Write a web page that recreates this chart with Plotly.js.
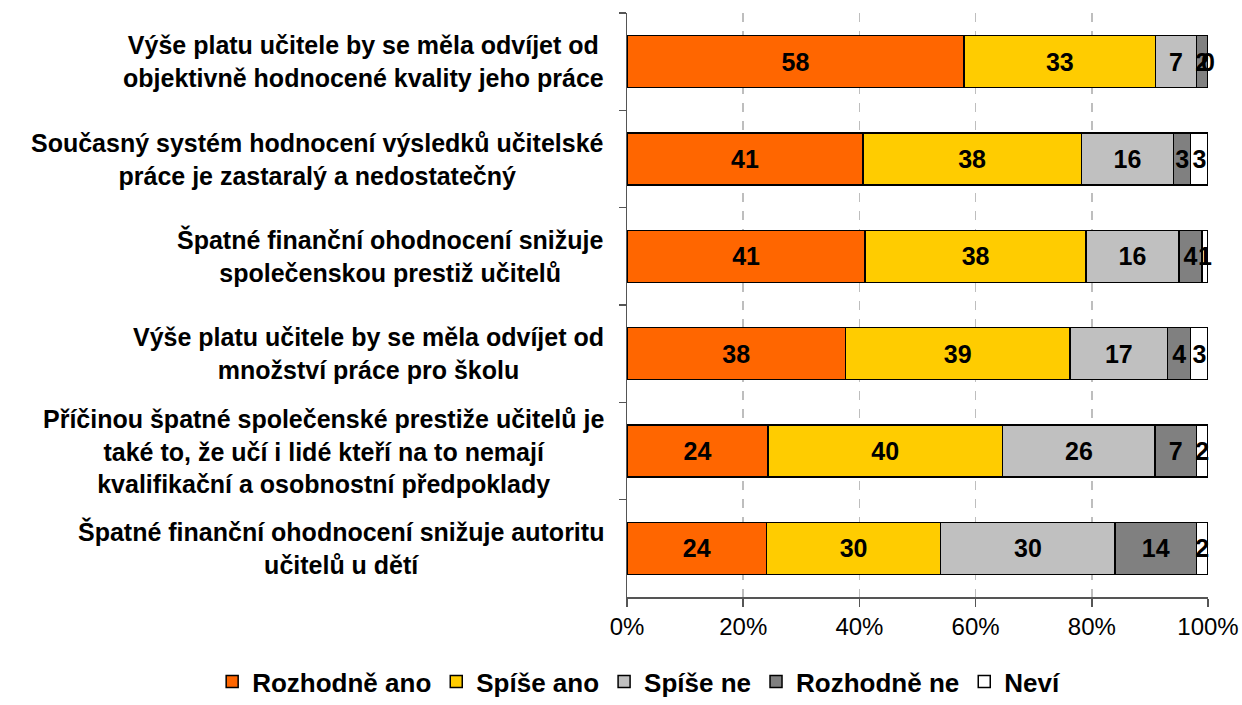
<!DOCTYPE html>
<html>
<head>
<meta charset="utf-8">
<script src="https://cdn.plot.ly/plotly-3.0.1.min.js"></script>
<style>html,body{margin:0;padding:0;background:#fff;}#chart{width:1242px;height:705px;}</style>
</head>
<body>
<div id="chart"></div>
<script>
const categories = [
  "Výše platu učitele by se měla odvíjet od<br>objektivně hodnocené kvality jeho práce",
  "Současný systém hodnocení výsledků učitelské<br>práce je zastaralý a nedostatečný",
  "Špatné finanční ohodnocení snižuje<br>společenskou prestiž učitelů",
  "Výše platu učitele by se měla odvíjet od<br>množství práce pro školu",
  "Příčinou špatné společenské prestiže učitelů je<br>také to, že učí i lidé kteří na to nemají<br>kvalifikační a osobnostní předpoklady",
  "Špatné finanční ohodnocení snižuje autoritu<br>učitelů u dětí"
];
const seriesNames = ["Rozhodně ano", "Spíše ano", "Spíše ne", "Rozhodně ne", "Neví"];
const rozhodneAno = [58, 41, 41, 38, 24, 24];
const spiseAno    = [33, 38, 38, 39, 40, 30];
const spiseNe     = [7, 16, 16, 17, 26, 30];
const rozhodneNe  = [2, 3, 4, 4, 7, 14];
const nevi        = [0, 3, 1, 3, 2, 2];
const xTickVals = [0, 20, 40, 60, 80, 100];
const xTickText = ["0%", "20%", "40%", "60%", "80%", "100%"];

const colors = ["#FF6600", "#FFCC00", "#C0C0C0", "#808080", "#FFFFFF"];
const seriesValues = [rozhodneAno, spiseAno, spiseNe, rozhodneNe, nevi];
const FONT = "Liberation Sans, Arial, sans-serif";

const traces = seriesValues.map((vals, i) => ({
  type: "bar",
  orientation: "h",
  name: seriesNames[i],
  y: categories,
  x: vals,
  text: vals.map(String),
  textposition: "inside",
  insidetextanchor: "middle",
  textangle: 0,
  constraintext: "none",
  cliponaxis: false,
  textfont: {family: FONT, size: 25, color: "#000", weight: "bold"},
  marker: {color: colors[i], line: {color: "#000", width: 1.5}},
  hoverinfo: "none"
}));

const annotations = categories.map(c => ({
  xref: "paper", yref: "y", x: -0.036, y: c,
  xanchor: "right", yanchor: "middle", align: "center",
  text: c, showarrow: false,
  font: {family: FONT, size: 25, color: "#000", weight: "bold"}
}));

// labels for zero-width segments (Plotly does not draw text on empty bars)
categories.forEach((c, r) => {
  const total = seriesValues.reduce((s, v) => s + v[r], 0);
  let cum = 0;
  seriesValues.forEach(v => {
    cum += v[r];
    if (v[r] === 0) {
      annotations.push({
        xref: "x", yref: "y", x: cum / total * 100, y: c,
        xanchor: "center", yanchor: "middle", text: String(v[r]), showarrow: false,
        font: {family: FONT, size: 25, color: "#000", weight: "bold"}
      });
    }
  });
});

const layout = {
  width: 1242, height: 705,
  margin: {l: 627, r: 34, t: 13, b: 108, pad: 0, autoexpand: false},
  paper_bgcolor: "#fff", plot_bgcolor: "#fff",
  barmode: "stack", barnorm: "percent",
  bargap: 0.465,
  showlegend: true,
  legend: {
    orientation: "h", xref: "paper", yref: "paper",
    x: -0.714, xanchor: "left", y: -0.185, yanchor: "bottom",
    font: {family: FONT, size: 26, color: "#000", weight: "bold"},
    traceorder: "normal", itemwidth: 30
  },
  xaxis: {
    range: [0, 100], tickvals: xTickVals, ticktext: xTickText,
    showgrid: true, gridcolor: "#BEBEBE", griddash: "dash", gridwidth: 1.5,
    zeroline: false, showline: true, linecolor: "#555", linewidth: 1.5,
    ticks: "outside", ticklen: 8, tickcolor: "#555", tickwidth: 1.5,
    tickfont: {family: FONT, size: 24, color: "#000"},
    automargin: false,
    fixedrange: true
  },
  yaxis: {
    type: "category", autorange: "reversed",
    showticklabels: false, showgrid: false, zeroline: false,
    showline: true, linecolor: "#555", linewidth: 1.5,
    ticks: "outside", tickson: "boundaries", ticklen: 7, tickcolor: "#555", tickwidth: 1.5,
    automargin: false,
    fixedrange: true
  },
  annotations: annotations
};

Plotly.newPlot("chart", traces, layout, {displayModeBar: false, staticPlot: true});
</script>
</body>
</html>
